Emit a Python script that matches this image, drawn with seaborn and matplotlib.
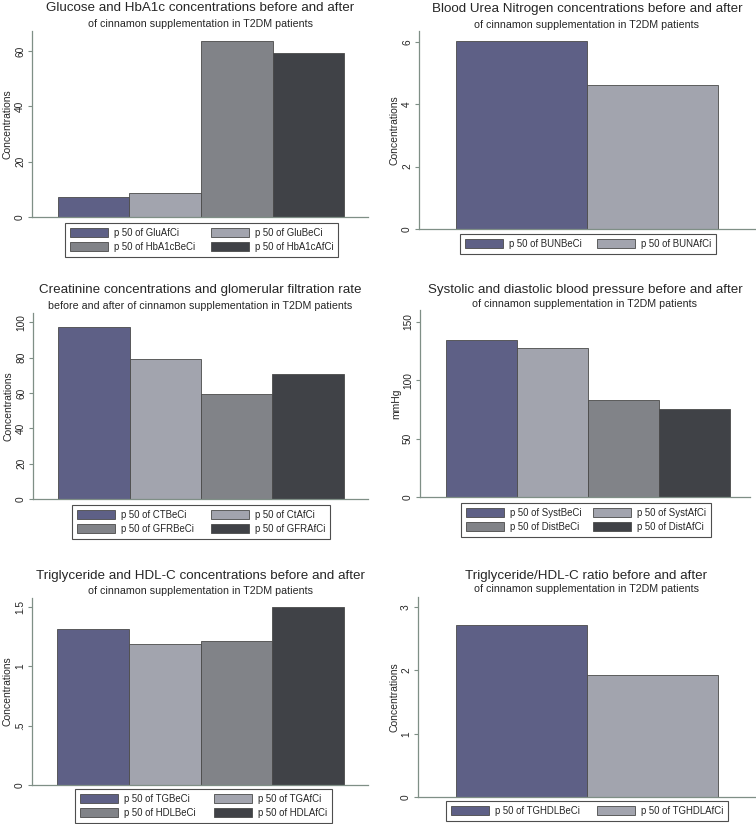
import numpy as np
import pandas as pd
import matplotlib.pyplot as plt
import seaborn as sns

sns.set_style("white")
plt.rcParams['font.family'] = ['Liberation Sans', 'DejaVu Sans']

# bar colours (Stata s2mono-like)
colors4 = ["#5e6086", "#a2a4ae", "#818388", "#404247"]
colors2 = ["#5e6086", "#a2a4ae"]

# data (medians, p 50)
glu_names = ["GluAfCi", "GluBeCi", "HbA1cBeCi", "HbA1cAfCi"]
glu_vals = [7.2, 8.6, 63.7, 59.4]

bun_names = ["BUNBeCi", "BUNAfCi"]
bun_vals = [6.03, 4.62]

cr_names = ["CTBeCi", "CtAfCi", "GFRBeCi", "GFRAfCi"]
cr_vals = [97.2, 79.4, 59.4, 70.9]

bp_names = ["SystBeCi", "SystAfCi", "DistBeCi", "DistAfCi"]
bp_vals = [134, 127.4, 83.1, 75.4]

tg_names = ["TGBeCi", "TGAfCi", "HDLBeCi", "HDLAfCi"]
tg_vals = [1.317, 1.19, 1.21, 1.497]

ratio_names = ["TGHDLBeCi", "TGHDLAfCi"]
ratio_vals = [2.71, 1.92]

titles = [
    ("Glucose and HbA1c concentrations before and after", "of cinnamon supplementation in T2DM patients"),
    ("Blood Urea Nitrogen concentrations before and after", "of cinnamon supplementation in T2DM patients"),
    ("Creatinine concentrations and glomerular filtration rate", "before and after of cinnamon supplementation in T2DM patients"),
    ("Systolic and diastolic blood pressure before and after", "of cinnamon supplementation in T2DM patients"),
    ("Triglyceride and HDL-C concentrations before and after", "of cinnamon supplementation in T2DM patients"),
    ("Triglyceride/HDL-C ratio before and after", "of cinnamon supplementation in T2DM patients"),
]

W, H = 756, 824
fig = plt.figure(figsize=(W / 100, H / 100), dpi=100)
axis_col = "#7f8f86"


def frac(l, t, r, b):
    return [l / W, 1 - b / H, (r - l) / W, (b - t) / H]


def draw_panel(rect, bar_span, leg_rect, title_y, names, vals, colors, title, sub,
               ylabel, yticks, yticklabels, ytop):
    ax = fig.add_axes(frac(*rect))
    df = pd.DataFrame({"grp": [""] * len(names), "var": names, "val": vals})
    sns.barplot(data=df, x="grp", y="val", hue="var", hue_order=names, palette=colors,
                width=0.8, gap=0, ax=ax, edgecolor="#4a4a4a", linewidth=0.6,
                saturation=1)
    handles, labels = ax.get_legend_handles_labels()
    ax.get_legend().remove()

    f0, f1 = bar_span
    span = 0.8 / (f1 - f0)
    ax.set_xlim(-0.4 - f0 * span, 0.4 + (1 - f1) * span)
    ax.set_ylim(0, ytop)
    ax.set_xticks([])
    ax.set_xlabel("")
    ax.set_yticks(yticks)
    ax.set_yticklabels(yticklabels, rotation=90, va="center", fontsize=7.3)
    ax.tick_params(axis="y", length=3, width=0.8, color=axis_col, pad=2, left=True)
    ax.set_ylabel(ylabel, fontsize=7.5, va="center")
    ax.yaxis.set_label_coords(-24 / (rect[2] - rect[0]), 0.5)
    for s in ["top", "right"]:
        ax.spines[s].set_visible(False)
    for s in ["left", "bottom"]:
        ax.spines[s].set_color(axis_col)
        ax.spines[s].set_linewidth(0.9)

    cx = (rect[0] + rect[2]) / 2 / W
    fig.text(cx, 1 - title_y[0] / H, title, ha="center", va="center", fontsize=9.6)
    fig.text(cx, 1 - title_y[1] / H, sub, ha="center", va="center", fontsize=7.7)

    labels = ["p 50 of " + n for n in names]
    if len(names) == 4:
        order = [0, 2, 1, 3]
        handles = [handles[i] for i in order]
        labels = [labels[i] for i in order]
    l, t, r, b = leg_rect
    leg = fig.legend(handles, labels, loc="upper left",
                     bbox_to_anchor=(l / W, 1 - b / H, (r - l) / W, (b - t) / H),
                     mode="expand", ncol=2, fontsize=6.9, frameon=True, fancybox=False,
                     edgecolor="#222222", handlelength=4.0, handleheight=1.1,
                     borderpad=0.5, labelspacing=0.45, handletextpad=0.6,
                     borderaxespad=0)
    leg.get_frame().set_linewidth(0.8)
    return ax


draw_panel((32, 31, 368, 217), (0.077, 0.929), (65, 223, 338, 255), (8, 24),
           glu_names, glu_vals, colors4, *titles[0], "Concentrations",
           [0, 20, 40, 60], ["0", "20", "40", "60"], 67.3)

draw_panel((419, 31, 755, 229), (0.110, 0.890), (460, 234, 716, 254), (9, 25),
           bun_names, bun_vals, colors2, *titles[1], "Concentrations",
           [0, 2, 4, 6], ["0", "2", "4", "6"], 6.35)

draw_panel((33, 313, 368, 499), (0.075, 0.928), (72, 505, 330, 538), (290, 306),
           cr_names, cr_vals, colors4, *titles[2], "Concentrations",
           [0, 20, 40, 60, 80, 100], ["0", "20", "40", "60", "80", "100"], 105.3)

draw_panel((420, 310, 750, 497), (0.079, 0.939), (461, 503, 711, 535), (290, 304),
           bp_names, bp_vals, colors4, *titles[3], "mmHg",
           [0, 50, 100, 150], ["0", "50", "100", "150"], 160)

draw_panel((32, 598, 368, 785), (0.074, 0.929), (75, 789, 332, 821), (576, 591),
           tg_names, tg_vals, colors4, *titles[4], "Concentrations",
           [0, 0.5, 1, 1.5], ["0", ".5", "1", "1.5"], 1.576)

draw_panel((418, 597, 755, 797), (0.113, 0.890), (446, 801, 728, 821), (576, 589),
           ratio_names, ratio_vals, colors2, *titles[5], "Concentrations",
           [0, 1, 2, 3], ["0", "1", "2", "3"], 3.16)

plt.savefig("out.png", dpi=100, facecolor="white")
